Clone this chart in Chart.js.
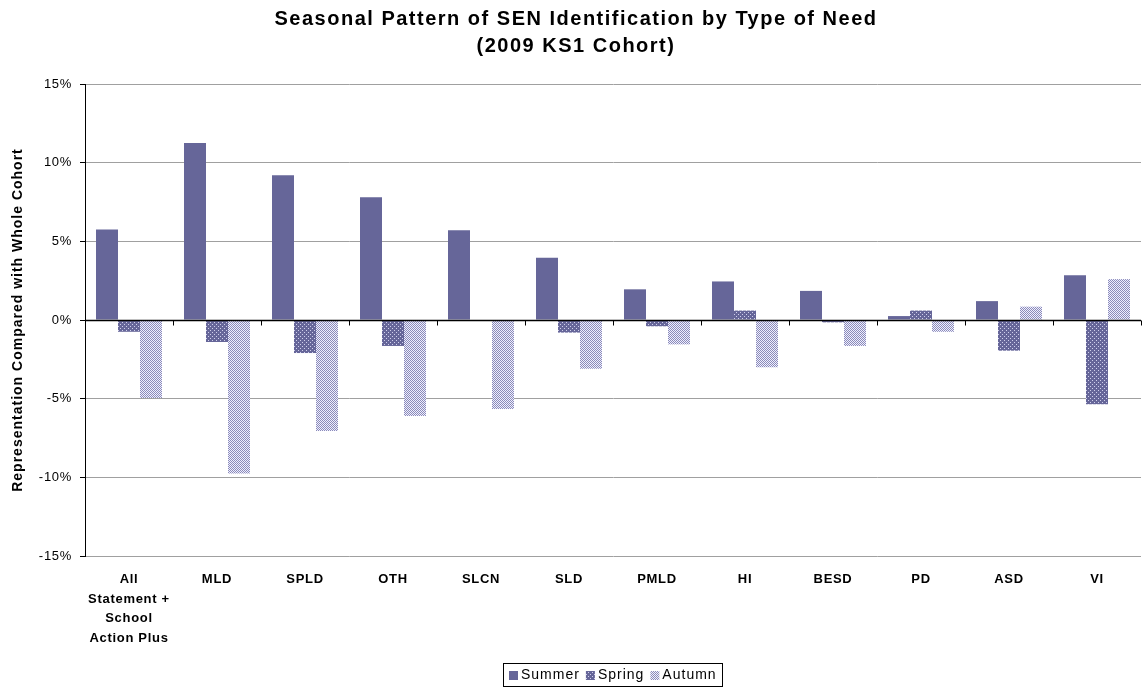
<!DOCTYPE html>
<html>
<head>
<meta charset="utf-8">
<title>Seasonal Pattern of SEN Identification</title>
<script src="https://cdn.jsdelivr.net/npm/chart.js@4.4.0/dist/chart.umd.min.js"></script>
<style>
  html, body { margin: 0; padding: 0; background: #fff; }
  #wrap { width: 1142px; height: 688px; }
</style>
</head>
<body>
<div id="wrap"><canvas id="senChart" width="1142" height="688"></canvas></div>
<script>
// Types of need, in display order
const categories = [
  ['All', 'Statement +', 'School', 'Action Plus'],
  'MLD', 'SPLD', 'OTH', 'SLCN', 'SLD', 'PMLD', 'HI', 'BESD', 'PD', 'ASD', 'VI'
];

// Representation compared with the whole cohort (%)
const summer = [5.75, 11.25, 9.2, 7.8, 5.7, 3.95, 1.95, 2.45, 1.85, 0.25, 1.2, 2.85];
const spring = [-0.75, -1.4, -2.1, -1.65, 0, -0.8, -0.4, 0.6, -0.15, 0.6, -1.95, -5.35];
const autumn = [-4.95, -9.75, -7.05, -6.1, -5.65, -3.1, -1.55, -3.0, -1.65, -0.75, 0.85, 2.6];

const yTicks = [-15, -10, -5, 0, 5, 10, 15];

const titleLines = ['Seasonal Pattern of SEN Identification by Type of Need', '(2009 KS1 Cohort)'];
const yTitle = 'Representation Compared with Whole Cohort';

const FONT = "'Liberation Sans', Arial, sans-serif";
const PURPLE = '#666699';

// small repeating fills for the spring / autumn bars
function makePattern(base, dot, cells, size) {
  const c = document.createElement('canvas');
  c.width = size; c.height = size;
  const g = c.getContext('2d');
  g.fillStyle = base;
  g.fillRect(0, 0, size, size);
  g.fillStyle = dot;
  cells.forEach(([x, y]) => g.fillRect(x, y, 1, 1));
  return g.createPattern(c, 'repeat');
}
const springFill = makePattern(PURPLE, '#d0d0ec', [[0, 0], [2, 2]], 4);
const autumnFill = makePattern('#8c8cb8', '#eeeeff', [[1, 0], [0, 1], [3, 0], [2, 1], [1, 2], [0, 3], [3, 2], [2, 3]], 4);

// slightly wider text, like the old office renderer
const spacing = {
  id: 'spacing',
  beforeDraw(chart) { chart.ctx.letterSpacing = '0.7px'; },
  afterDraw(chart) { chart.ctx.letterSpacing = '0px'; }
};

// chart title and vertical axis title
const headings = {
  id: 'headings',
  afterDraw(chart) {
    const { ctx, chartArea } = chart;
    ctx.save();
    ctx.fillStyle = '#000';
    ctx.textAlign = 'center';
    ctx.textBaseline = 'middle';
    ctx.letterSpacing = '1.5px';
    ctx.font = 'bold 20px ' + FONT;
    titleLines.forEach((line, i) => ctx.fillText(line, 576, 19 + i * 27));
    ctx.letterSpacing = '1px';
    ctx.font = 'bold 14px ' + FONT;
    ctx.translate(18, (chartArea.top + chartArea.bottom) / 2);
    ctx.rotate(-Math.PI / 2);
    ctx.fillText(yTitle, 0, 0);
    ctx.restore();
  }
};

// zero line acting as the category axis, with its tick marks
const zeroAxis = {
  id: 'zeroAxis',
  afterDatasetsDraw(chart) {
    const { ctx, chartArea, scales } = chart;
    const y0 = Math.round(scales.y.getPixelForValue(0)) + 0.5;
    const n = categories.length;
    const step = (chartArea.right - chartArea.left) / n;
    ctx.save();
    ctx.strokeStyle = '#000';
    ctx.lineWidth = 1.5;
    ctx.beginPath();
    ctx.moveTo(chartArea.left, y0);
    ctx.lineTo(chartArea.right, y0);
    ctx.stroke();
    ctx.lineWidth = 1;
    ctx.beginPath();
    for (let i = 1; i <= n; i++) {
      const x = Math.round(chartArea.left + i * step) + 0.5;
      ctx.moveTo(x, y0);
      ctx.lineTo(x, y0 + 5);
    }
    ctx.stroke();
    ctx.restore();
  }
};

// framed legend under the category labels
const boxLegend = {
  id: 'boxLegend',
  afterDraw(chart) {
    const ctx = chart.ctx;
    const sets = chart.data.datasets;
    const top = 663, bottom = 686, left = 503, right = 722;
    ctx.save();
    ctx.font = '14px ' + FONT;
    ctx.letterSpacing = '1px';
    ctx.textBaseline = 'middle';
    ctx.textAlign = 'left';
    const mid = (top + bottom) / 2 + 0.5;
    let x = left + 6;
    sets.forEach(ds => {
      ctx.fillStyle = ds.backgroundColor;
      ctx.fillRect(x, mid - 4, 9, 9);
      x += 12;
      ctx.fillStyle = '#000';
      ctx.fillText(ds.label, x, mid);
      x += ctx.measureText(ds.label).width + 6;
    });
    ctx.strokeStyle = '#000';
    ctx.lineWidth = 1;
    ctx.strokeRect(left + 0.5, top + 0.5, right - left, bottom - top);
    ctx.restore();
  }
};

const ctx = document.getElementById('senChart').getContext('2d');
const senChart = new Chart(ctx, {
  type: 'bar',
  data: {
    labels: categories,
    datasets: [
      { label: 'Summer', data: summer, backgroundColor: PURPLE },
      { label: 'Spring', data: spring, backgroundColor: springFill },
      { label: 'Autumn', data: autumn, backgroundColor: autumnFill }
    ]
  },
  options: {
    responsive: false,
    animation: false,
    devicePixelRatio: 1,
    layout: { padding: { left: 0, right: 1, top: 84, bottom: 0 } },
    datasets: {
      bar: { categoryPercentage: 0.75, barPercentage: 1.0, borderWidth: 0 }
    },
    scales: {
      x: {
        grid: { display: false, drawTicks: false },
        border: { display: false },
        ticks: {
          color: '#000',
          padding: 14,
          maxRotation: 0,
          autoSkip: false,
          font: { family: FONT, size: 13, weight: 'bold', lineHeight: 1.5 }
        },
        afterFit(scale) { scale.height = scale.chart.height - 556; }
      },
      y: {
        min: -15,
        max: 15,
        afterBuildTicks(scale) {
          scale.ticks = yTicks.map(v => ({ value: v }));
        },
        grid: {
          color: '#a0a0a0',
          tickColor: '#000',
          tickLength: 5,
          lineWidth: 1
        },
        border: { display: true, color: '#000', width: 1 },
        ticks: {
          color: '#000',
          padding: 8,
          font: { family: FONT, size: 13 },
          callback: v => v + '%'
        },
        afterFit(scale) { scale.width = 85; }
      }
    },
    plugins: {
      title: { display: false },
      legend: { display: false },
      tooltip: { enabled: false }
    }
  },
  plugins: [spacing, zeroAxis, headings, boxLegend]
});
</script>
</body>
</html>
